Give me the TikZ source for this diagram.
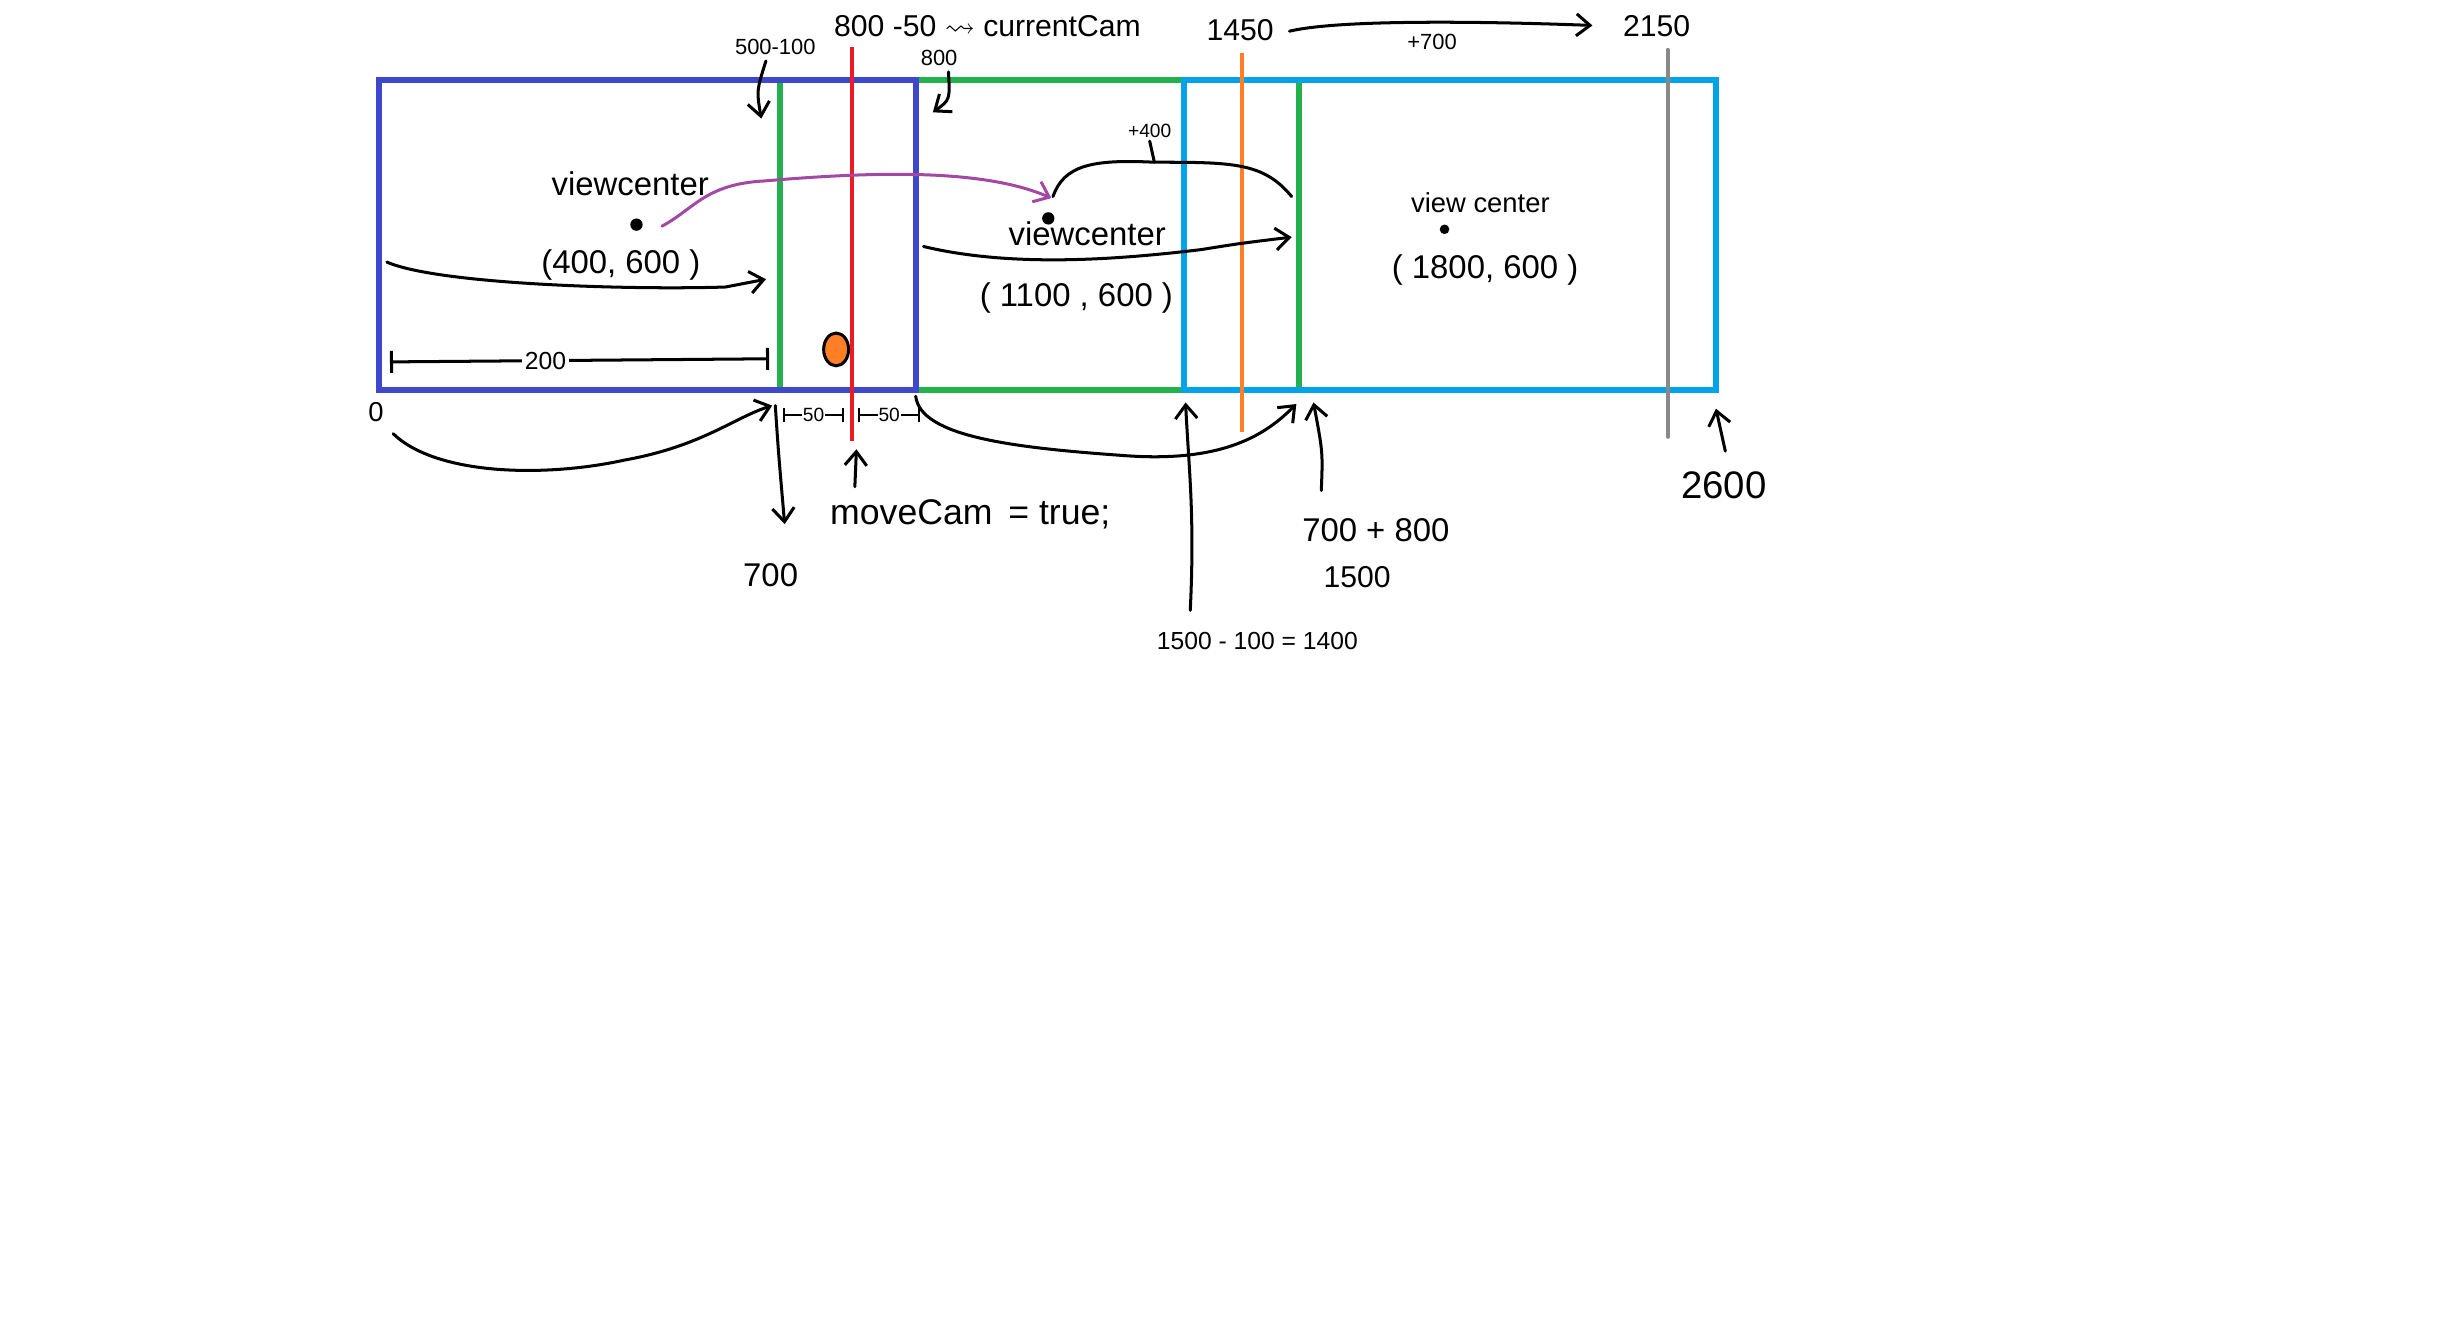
\documentclass[tikz,border=0pt]{standalone}
\usepackage{amssymb}
\usepackage{fontspec}
\setmainfont{Liberation Sans}
\usetikzlibrary{arrows.meta,shapes.geometric}
\definecolor{camblue}{HTML}{3F48CC}
\definecolor{camgreen}{HTML}{22B14C}
\definecolor{camcyan}{HTML}{00A2E8}
\definecolor{camred}{HTML}{ED1C24}
\definecolor{camorange}{HTML}{FF7F27}
\definecolor{camgray}{HTML}{888888}
\definecolor{campurple}{HTML}{A349A4}

\begin{document}
\begin{tikzpicture}[x=0.02cm,y=-0.02cm,
  pen/.style={line width=1.1pt, line cap=round},
  arr/.style={pen, -{Straight Barb[length=5pt,width=8pt]}},
  frame/.style={line width=2.2pt},
  guide/.style={line width=1.5pt},
  lbl/.style={inner sep=1pt, font=\fontsize{#1}{#1}\selectfont},
  lbl/.default=11,
  vdot/.style={circle, fill, inner sep=0pt, minimum size=4.5pt},
  dimtick/.style={pen, {Bar[width=8pt]}-{Bar[width=8pt]}}]
\useasboundingbox (0,0) rectangle (1568,851);

% camera frames
\draw[frame, camgreen] (500,51) rectangle (833,250);
\draw[frame, camblue] (243,51) rectangle (587,250);
\draw[frame, camcyan] (759,51) rectangle (1100,250);

% player
\node[ellipse, draw, line width=1.1pt, fill=camorange, minimum width=0.32cm, minimum height=0.42cm, inner sep=0pt] (cam) at (536,224) {};

% boundary lines
\draw[guide, camred] (546,30) -- (546,283);
\draw[guide, camorange] (796,34) -- (796,277);
\draw[guide, camgray, line cap=round] (1069,32) -- (1069,280);

% top labels
\node[lbl=11] (curcam) at (633,17) {800 -50 $\rightsquigarrow$ currentCam};
\node[lbl=8] (t500) at (497,30) {500-100};
\node[lbl=8] (t800) at (602,37) {800};
\node[lbl=11] (t1450) at (795,19) {1450};
\node[lbl=11] (t2150) at (1062,17) {2150};
\node[lbl=8] (p700) at (918,27) {+700};
\node[lbl=7] (p400) at (737,84) {+400};

\coordinate (a500) at (488,76);
\coordinate (a800) at (598,72);
\draw[arr] (t500.south) ++(-6,2) .. controls (485,58) .. (a500);
\draw[arr] (t800.south) ++(6,2) .. controls (609,64) .. (a800);
\draw[arr, shorten >=10pt] (t1450.east) ++(8,1) .. controls (860,12) and (960,14) .. (t2150.west);

% view centers
\node[lbl=12] (vcA) at (404,118) {viewcenter};
\node[vdot] (dA) at (408,144) {};
\node[lbl=12] (posA) at (398,170) {(400, 600 )};
\node[lbl=12] (vcB) at (697,150) {viewcenter};
\node[vdot] (dB) at (672,140) {};
\node[lbl=12] (posB) at (690,191) {( 1100 , 600 )};
\node[lbl=10] (vcC) at (949,130) {view center};
\node[vdot, minimum size=3.5pt] (dC) at (926,147) {};
\node[lbl=12] (posC) at (952,173) {( 1800, 600 )};

\coordinate (pEnd) at (674,127);
\draw[pen, campurple, -{Straight Barb[length=5pt,width=8pt]}] (dA.east) ++(12,1) .. controls (445,134) and (452,118) .. (490,116) .. controls (560,110) and (630,108) .. (pEnd);

% shift arrows
\coordinate (sA0) at (248,168);
\coordinate (sA1) at (491,179);
\coordinate (sB0) at (592,158);
\coordinate (sB1) at (828,152);
\draw[arr] (sA0) .. controls (280,182) and (400,186) .. (465,184) -- (sA1);
\draw[arr] (sB0) .. controls (650,172) and (720,166) .. (770,160) .. controls (795,156) .. (sB1);

% +400 bracket
\coordinate (bL) at (675,126);
\coordinate (bR) at (828,126);
\coordinate (bM) at (740,104);
\draw[pen] (bL) .. controls (682,106) and (700,102) .. (bM) .. controls (790,104) and (810,104) .. (bR);
\draw[pen] (bM) -- (p400.south);

% widths
\coordinate (wL) at (250,232);
\coordinate (wR) at (493,230);
\draw[dimtick] (wL) -- node[pos=0.41, lbl=9, fill=white] (w200) {200} (wR);
\coordinate (hA0) at (502,266);
\coordinate (hA1) at (541,266);
\coordinate (hB0) at (550,266);
\coordinate (hB1) at (590,266);
\draw[pen, line width=0.8pt, {Bar[width=5pt]}-{Bar[width=5pt]}] (hA0) -- node[lbl=7, fill=white, inner sep=0.3pt] (h50a) {50} (hA1);
\draw[pen, line width=0.8pt, {Bar[width=5pt]}-{Bar[width=5pt]}] (hB0) -- node[lbl=7, fill=white, inner sep=0.3pt] (h50b) {50} (hB1);

% bottom labels
\node[lbl=10] (zero) at (241,264) {0};
\node[lbl=12] (b700) at (494,369) {700};
\node[lbl=13] (move) at (622,330) {moveCam \,= true;};
\node[lbl=9] (b1400) at (806,411) {1500 - 100 = 1400};
\node[lbl=12] (b700p) at (882,340) {700 + 800};
\node[lbl=11] (b1500) at (870,370) {1500};
\node[lbl=14] (b2600) at (1105,311) {2600};

\coordinate (c0) at (252,278);
\coordinate (c700) at (495,260);
\coordinate (dn0) at (497,260);
\coordinate (dn1) at (503,336);
\coordinate (rd) at (549,288);
\coordinate (gR0) at (587,254);
\coordinate (gR1) at (831,259);
\coordinate (cyL) at (760,258);
\coordinate (grR) at (842,258);
\coordinate (cyR) at (1100,262);

\draw[arr] (c0) .. controls (280,305) and (350,306) .. (400,295) .. controls (450,286) and (470,268) .. (c700);
\draw[arr] (dn0) .. controls (499,290) .. (dn1);
\draw[arr] (548,312) -- (rd);
\draw[arr] (gR0) .. controls (590,280) and (650,287) .. (720,292) .. controls (785,297) and (812,278) .. (gR1);
\draw[arr] (b1400.north) ++(-43,-12) .. controls (766,330) and (762,300) .. (cyL);
\draw[arr] (b700p.north) ++(-35,-16) .. controls (848,290) .. (grR);
\draw[arr] (b2600.north) ++(1,-11) -- (cyR);
\end{tikzpicture}
\end{document}
